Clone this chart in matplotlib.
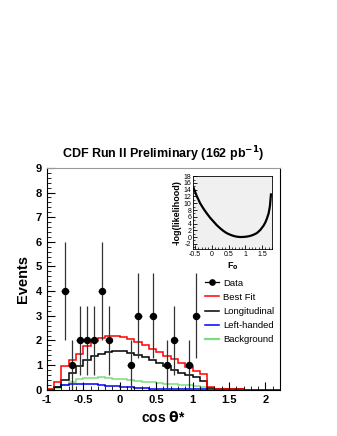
import matplotlib
matplotlib.use("Agg")
import matplotlib.pyplot as plt
import numpy as np
from matplotlib.lines import Line2D
from matplotlib.ticker import MultipleLocator

plt.rcParams["font.family"] = ["Liberation Sans", "DejaVu Sans"]
plt.rcParams["axes.unicode_minus"] = False

# histogram bins of cos theta*, width 0.1 from -1 to 2.2
bin_lo = -1.0
bin_hi = 2.2
n_bins = 32

best_fit = [0.02, 0.3, 0.95, 1.2, 1.46, 1.76, 1.96, 2.12, 2.19, 2.19,
            2.16, 2.05, 1.92, 1.8, 1.66, 1.55, 1.38, 1.24, 1.08, 0.93,
            0.75, 0.62, 0.1, 0.05, 0.03, 0.02, 0.02, 0.01, 0.01, 0.01,
            0.0, 0.0]
longitudinal = [0.01, 0.1, 0.4, 0.68, 0.98, 1.2, 1.35, 1.45, 1.52, 1.56,
                1.56, 1.5, 1.42, 1.33, 1.22, 1.1, 0.97, 0.82, 0.7, 0.6,
                0.5, 0.36, 0.07, 0.04, 0.03, 0.02, 0.02, 0.01, 0.01, 0.01,
                0.0, 0.0]
left_handed = [0.01, 0.1, 0.2, 0.25, 0.25, 0.24, 0.22, 0.2, 0.17, 0.15,
               0.12, 0.1, 0.08, 0.06, 0.05, 0.04, 0.03, 0.02, 0.02, 0.02,
               0.02, 0.02, 0.01, 0.01, 0.01, 0.01, 0.0, 0.0, 0.0, 0.0,
               0.0, 0.0]
background = [0.02, 0.08, 0.2, 0.3, 0.42, 0.47, 0.48, 0.5, 0.47, 0.44,
              0.42, 0.4, 0.36, 0.32, 0.3, 0.27, 0.25, 0.22, 0.2, 0.18,
              0.17, 0.12, 0.06, 0.04, 0.03, 0.02, 0.02, 0.01, 0.01, 0.01,
              0.0, 0.0]

data_x = [-0.75, -0.65, -0.55, -0.45, -0.35, -0.25, -0.15, 0.15, 0.25,
          0.45, 0.65, 0.75, 0.95, 1.05]
data_y = [4, 1, 2, 2, 2, 4, 2, 1, 3, 3, 1, 2, 1, 3]
data_err = [2.0, 1.0, 1.41, 1.41, 1.41, 2.0, 1.41, 1.0, 1.73, 1.73, 1.0,
            1.41, 1.0, 1.73]

# likelihood scan for the inset
f0_vals = [-0.55, -0.45, -0.35, -0.25, -0.15, -0.05, 0.05, 0.15, 0.25,
           0.35, 0.45, 0.55, 0.65, 0.75, 0.85, 0.95, 1.05, 1.15, 1.25,
           1.35, 1.45, 1.55, 1.6, 1.65, 1.7, 1.74, 1.77]
nll_vals = [14.6, 12.1, 10.0, 8.4, 7.0, 5.7, 4.6, 3.5, 2.6, 1.8, 1.15,
            0.7, 0.35, 0.12, 0.02, 0.05, 0.15, 0.35, 0.7, 1.2, 2.1, 3.4,
            4.3, 5.5, 7.0, 9.2, 12.6]

edges = np.linspace(bin_lo, bin_hi, n_bins + 1)

fig = plt.figure(figsize=(3.37, 4.36), dpi=100)
ax = fig.add_axes([0.139, 0.106, 0.692, 0.509])

ax.stairs(background, edges, color="#7fdd7f", lw=1.1)
ax.stairs(left_handed, edges, color="#0000ff", lw=1.1)
ax.stairs(longitudinal, edges, color="black", lw=1.1)
ax.stairs(best_fit, edges, color="#ff0000", lw=1.1)
ax.errorbar(data_x, data_y, yerr=data_err, xerr=0.05, fmt="o", color="black",
            ecolor="#333333", elinewidth=0.9, markersize=4.3, capsize=0)

ax.set_xlim(-1, 2.2)
ax.set_ylim(0, 9)
ax.xaxis.set_major_locator(MultipleLocator(0.5))
ax.xaxis.set_minor_locator(MultipleLocator(0.1))
ax.yaxis.set_major_locator(MultipleLocator(1))
ax.yaxis.set_minor_locator(MultipleLocator(0.2))
ax.set_xticks([-1, -0.5, 0, 0.5, 1, 1.5, 2])
ax.set_xticklabels(["-1", "-0.5", "0", "0.5", "1", "1.5", "2"])
ax.tick_params(which="both", direction="in", top=False, right=False,
               labelsize=8)
ax.tick_params(which="major", length=6, width=0.8)
ax.tick_params(which="minor", length=3, width=0.6)
for lab in ax.get_xticklabels() + ax.get_yticklabels():
    lab.set_fontweight("bold")
ax.spines["top"].set_color("#999999")
ax.set_xlabel(r"cos $\mathbf{\theta}$*", fontsize=10, fontweight="bold")
ax.set_ylabel("Events", fontsize=10.5, fontweight="bold")
ax.set_title(r"CDF Run II Preliminary (162 pb$^{\mathbf{-1}}$)",
             fontsize=9, fontweight="bold", pad=7)

handles = [
    Line2D([], [], color="black", marker="o", markersize=3.8, lw=0.9),
    Line2D([], [], color="#ff0000", lw=1.1),
    Line2D([], [], color="black", lw=1.1),
    Line2D([], [], color="#0000ff", lw=1.1),
    Line2D([], [], color="#7fdd7f", lw=1.6),
]
labels = ["Data", "Best Fit", "Longitudinal", "Left-handed", "Background"]
fig.legend(handles, labels, loc="upper left", bbox_to_anchor=(0.595, 0.372),
           frameon=False, fontsize=6.8, handlelength=1.5, handletextpad=0.4,
           labelspacing=0.55, borderpad=0)

ins = fig.add_axes([0.574, 0.429, 0.233, 0.167])
ins.set_facecolor("#f0f0f0")
ins.plot(f0_vals, nll_vals, color="black", lw=1.6)
ins.set_xlim(-0.55, 1.8)
ins.set_ylim(-3.5, 18)
ins.set_xticks([-0.5, 0, 0.5, 1, 1.5])
ins.set_xticklabels(["-0.5", "0", "0.5", "1", "1.5"])
ins.xaxis.set_minor_locator(MultipleLocator(0.1))
ins.yaxis.set_major_locator(MultipleLocator(2))
ins.yaxis.set_minor_locator(MultipleLocator(1))
ins.tick_params(which="both", direction="in", labelsize=5, pad=1.5)
ins.tick_params(which="major", length=3, width=0.6)
ins.tick_params(which="minor", length=1.5, width=0.5)
ins.set_ylabel("-log(likelihood)", fontsize=6.5, fontweight="bold", labelpad=1)
ins.set_xlabel(r"F$_{\mathbf{0}}$", fontsize=6.5, fontweight="bold", labelpad=2)
for s in ins.spines.values():
    s.set_linewidth(0.6)

fig.savefig("out.png", dpi=100)
